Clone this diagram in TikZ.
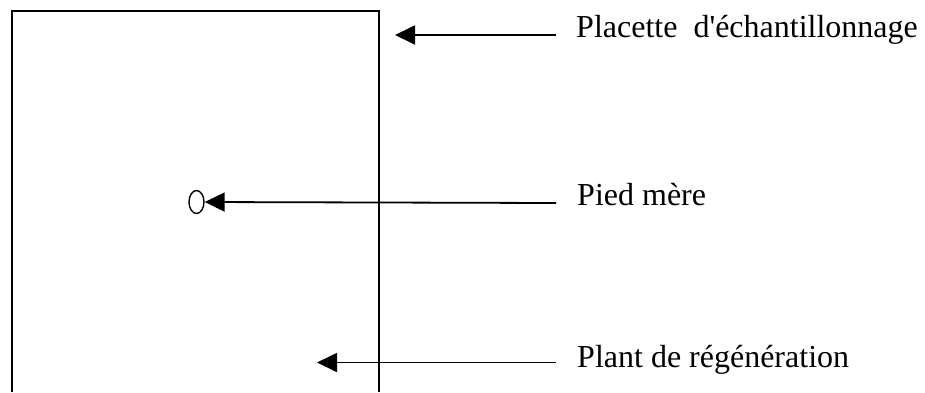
\documentclass[tikz,border=0pt]{standalone}
\usepackage{fontspec}
\setmainfont{Liberation Serif}
\usetikzlibrary{arrows.meta,shapes.geometric}
\begin{document}
\begin{tikzpicture}[x=1pt,y=-1pt,
  frame/.style={draw=black,line width=1.5pt},
  pointer/.style={draw=black,line width=1.8pt,-{Triangle[length=20pt,width=19pt]}},
  label/.style={font=\fontsize{32}{38}\selectfont,anchor=base west,inner sep=0pt}]
  \useasboundingbox (0,0) rectangle (925,392);
  % sampling plot outline (open at the bottom)
  \draw[frame] (12,392) -- (12,11) -- (379,11) -- (379,392);
  % mother tree
  \node[draw=black,line width=1.4pt,ellipse,minimum width=15pt,minimum height=23pt,inner sep=0pt] (tree) at (196.5,202) {};
  % labels
  \node[label] (lplot) at (576,37) {Placette\ \ d\textquotesingle échantillonnage};
  \node[label] (ltree) at (577,205) {Pied mère};
  \node[label] (lplant) at (577,367) {Plant de régénération};
  % free ends of the pointers
  \coordinate (eplot) at (556,35);
  \coordinate (etree) at (556,203);
  \coordinate (eplant) at (556,362.5);
  \coordinate (tplot) at (395,35);
  \coordinate (tplant) at (317,362.5);
  \draw[pointer] (eplot) -- (tplot);
  \draw[pointer] (etree) -- (tree.east);
  \draw[pointer] (eplant) -- (tplant);
\end{tikzpicture}
\end{document}
